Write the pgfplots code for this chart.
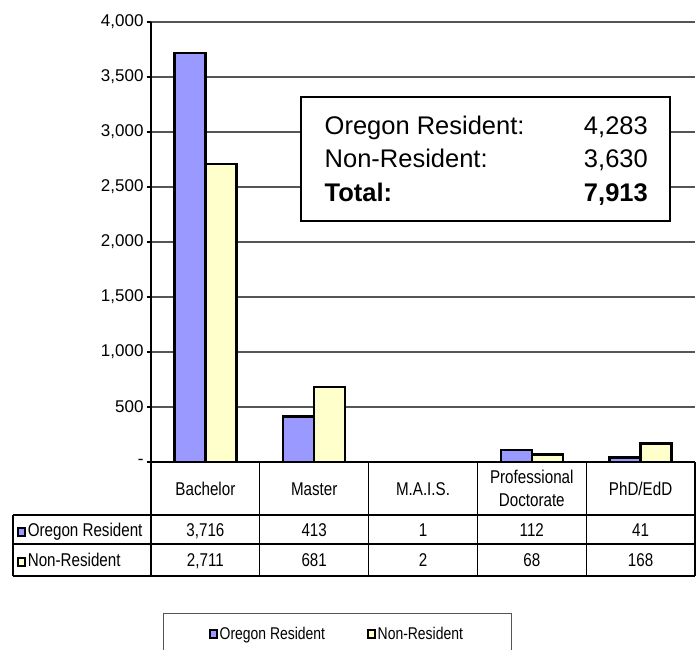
\documentclass[border=0pt]{standalone}
\usepackage{pgfplots}
\pgfplotsset{compat=1.18}
\usepackage{fontspec}
\setmainfont{Liberation Sans}
\newfontfamily\narrowfont[FakeStretch=0.82]{Liberation Sans}
\definecolor{orblue}{RGB}{153,153,255}
\definecolor{nonyel}{RGB}{255,255,204}
\definecolor{gridgray}{RGB}{85,85,85}
\newcommand{\keybox}[1]{\tikz[baseline=-0.5pt]\draw[draw=black,fill=#1,line width=1.6pt](0,0) rectangle (7pt,8pt);}
\begin{document}
\begin{tikzpicture}
\path[use as bounding box] (0pt,0pt) rectangle (699pt,650pt);
\begin{axis}[
  at={(151pt,188pt)}, anchor=south west,
  scale only axis, width=544pt, height=440pt,
  xmin=-0.5, xmax=4.5, ymin=0, ymax=4000,
  clip=false,
  xtick=\empty,
  ytick={0,500,1000,1500,2000,2500,3000,3500,4000},
  yticklabels={{-\hspace{14pt}},500,{1,000},{1,500},{2,000},{2,500},{3,000},{3,500},{4,000}},
  yticklabel style={font=\fontsize{17}{20}\selectfont},
  axis x line*=bottom, axis y line*=left,
  axis line style={-, black, line width=1.2pt},
  tick align=outside, major tick length=4pt,
  ytick style={black, line width=1.2pt},
  ymajorgrids, grid style={gridgray, line width=1.2pt},
  ybar=0pt, bar width=31pt,
  legend style={at={(0.342,-0.391)}, anchor=center, draw=none, fill=none,
    legend columns=2, font=\narrowfont\fontsize{17}{20}\selectfont,
    nodes={inner xsep=2pt},
    /tikz/every even column/.append style={column sep=40pt}},
  legend image code/.code={\draw[#1, draw=black, line width=1.6pt] (0pt,-4pt) rectangle (7pt,4pt);},
]
\addplot[ybar, fill=orblue, draw=black, line width=2.3pt] coordinates {(0,3716) (1,413) (2,1) (3,112) (4,41)};
\addplot[ybar, fill=nonyel, draw=black, line width=2.3pt] coordinates {(0,2711) (1,681) (2,2) (3,68) (4,168)};
\legend{Oregon Resident, Non-Resident}
\end{axis}
% summary box
\draw[fill=white, line width=1.8pt] (301pt,429pt) rectangle (670pt,553pt);
\begin{scope}[every node/.style={font=\fontsize{25.5}{30}\selectfont, inner sep=0pt}]
\node[anchor=base west] at (324.5pt,515pt) {Oregon Resident:};
\node[anchor=base east] at (648pt,515pt) {4,283};
\node[anchor=base west] at (324.5pt,482pt) {Non-Resident:};
\node[anchor=base east] at (648pt,482pt) {3,630};
\node[anchor=base west] at (324.5pt,448pt) {\bfseries Total:};
\node[anchor=base east] at (648pt,448pt) {\bfseries 7,913};
\end{scope}
% data table
\begin{scope}[line width=1.1pt, black]
\foreach \x in {151,259.8,368.6,477.4,586.2,695} {\draw (\x pt,188pt) -- (\x pt,74pt);}
\draw (13pt,135pt) -- (695pt,135pt);
\draw (13pt,106pt) -- (695pt,106pt);
\draw (13pt,74pt) -- (695pt,74pt);
\draw (13pt,135pt) -- (13pt,74pt);
\end{scope}
\begin{scope}[every node/.style={font=\narrowfont\fontsize{18.5}{22}\selectfont, inner sep=0pt, anchor=base}]
\node at (205.4pt,154.3pt) {Bachelor};
\node at (314.2pt,154.3pt) {Master};
\node at (423pt,154.3pt) {M.A.I.S.};
\node at (531.8pt,166.3pt) {Professional};
\node at (531.8pt,143.7pt) {Doctorate};
\node at (640.6pt,154.3pt) {PhD/EdD};
\node[anchor=base west] at (17pt,113.3pt) {\keybox{orblue}\hspace{2pt}Oregon Resident};
\node[anchor=base west] at (17pt,83.3pt) {\keybox{nonyel}\hspace{2pt}Non-Resident};
\node at (205.4pt,113.3pt) {3,716};
\node at (314.2pt,113.3pt) {413};
\node at (423pt,113.3pt) {1};
\node at (531.8pt,113.3pt) {112};
\node at (640.6pt,113.3pt) {41};
\node at (205.4pt,83.3pt) {2,711};
\node at (314.2pt,83.3pt) {681};
\node at (423pt,83.3pt) {2};
\node at (531.8pt,83.3pt) {68};
\node at (640.6pt,83.3pt) {168};
\end{scope}
% legend frame
\draw[gridgray, line width=1pt] (163pt,-3pt) rectangle (511pt,36pt);
\end{tikzpicture}
\end{document}
